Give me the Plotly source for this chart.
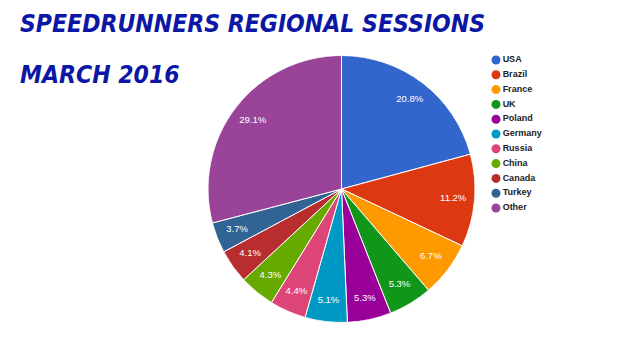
import numpy as np
import plotly.graph_objects as go

labels = ["USA", "Brazil", "France", "UK", "Poland", "Germany", "Russia", "China", "Canada", "Turkey", "Other"]
values = [20.8, 11.2, 6.7, 5.3, 5.3, 5.1, 4.4, 4.3, 4.1, 3.7, 29.1]
colors = ["#3366cc", "#dc3912", "#ff9900", "#109618", "#990099", "#0099c6",
          "#dd4477", "#66aa00", "#b82e2e", "#316395", "#994499"]
title1 = "SPEEDRUNNERS REGIONAL SESSIONS"
title2 = "MARCH 2016"

W, H = 640, 338
cx, cy, R = 341.5, 189, 133.5
dom_x = [(cx - R) / W, (cx + R) / W]
dom_y = [(H - (cy + R)) / H, (H - (cy - R)) / H]

vals = np.array(values)
total = vals.sum()
widths = vals / total * 360
mids = np.cumsum(widths) - widths / 2

fig = go.Figure()
# pie slices drawn as polar bars
fig.add_trace(go.Barpolar(
    r=[1] * len(values), theta=mids, width=widths,
    marker=dict(color=colors, line=dict(color="white", width=1)),
    hovertext=labels, hoverinfo="text", showlegend=False,
))
# slice labels
fig.add_trace(go.Scatterpolar(
    r=[0.84] * len(values), theta=mids, mode="text",
    text=[f"{v:.1f}%" for v in values],
    textfont=dict(family="Liberation Sans, Arial", size=9.5, color="white"),
    hoverinfo="skip", showlegend=False,
))

# legend
fig.add_trace(go.Scatter(
    x=[0] * len(labels), y=list(range(len(labels))), mode="markers+text",
    marker=dict(color=colors, size=9, symbol="circle"),
    text=labels, textposition="middle right",
    textfont=dict(family="Liberation Sans, Arial", size=9, color="#222222", weight="bold"),
    cliponaxis=False, hoverinfo="skip", showlegend=False,
))

step = 14.8
top = 60 - step / 2
bot = 60 + step * 10 + step / 2
tfont = dict(family="DejaVu Sans Condensed, DejaVu Sans", size=24.5, color="#0c17a6",
             weight="bold", style="italic")
fig.update_layout(
    width=W, height=H, margin=dict(l=0, r=0, t=0, b=0),
    paper_bgcolor="white", plot_bgcolor="rgba(0,0,0,0)",
    polar=dict(
        domain=dict(x=dom_x, y=dom_y), bgcolor="rgba(0,0,0,0)",
        bargap=0,
        radialaxis=dict(range=[0, 1], visible=False),
        angularaxis=dict(direction="clockwise", rotation=90, visible=False),
    ),
    xaxis=dict(domain=[496 / W, 1], range=[0, 1], visible=False, fixedrange=True),
    yaxis=dict(domain=[(H - bot) / H, (H - top) / H], range=[10.5, -0.5], visible=False, fixedrange=True),
    showlegend=False,
    annotations=[
        dict(text=title1, x=18 / W, y=1 - 23 / H, xref="paper", yref="paper", xanchor="left", yanchor="middle",
             showarrow=False, font=tfont),
        dict(text=title2, x=18 / W, y=1 - 74 / H, xref="paper", yref="paper", xanchor="left", yanchor="middle",
             showarrow=False, font=tfont),
    ],
)

fig.write_html("out.html")
